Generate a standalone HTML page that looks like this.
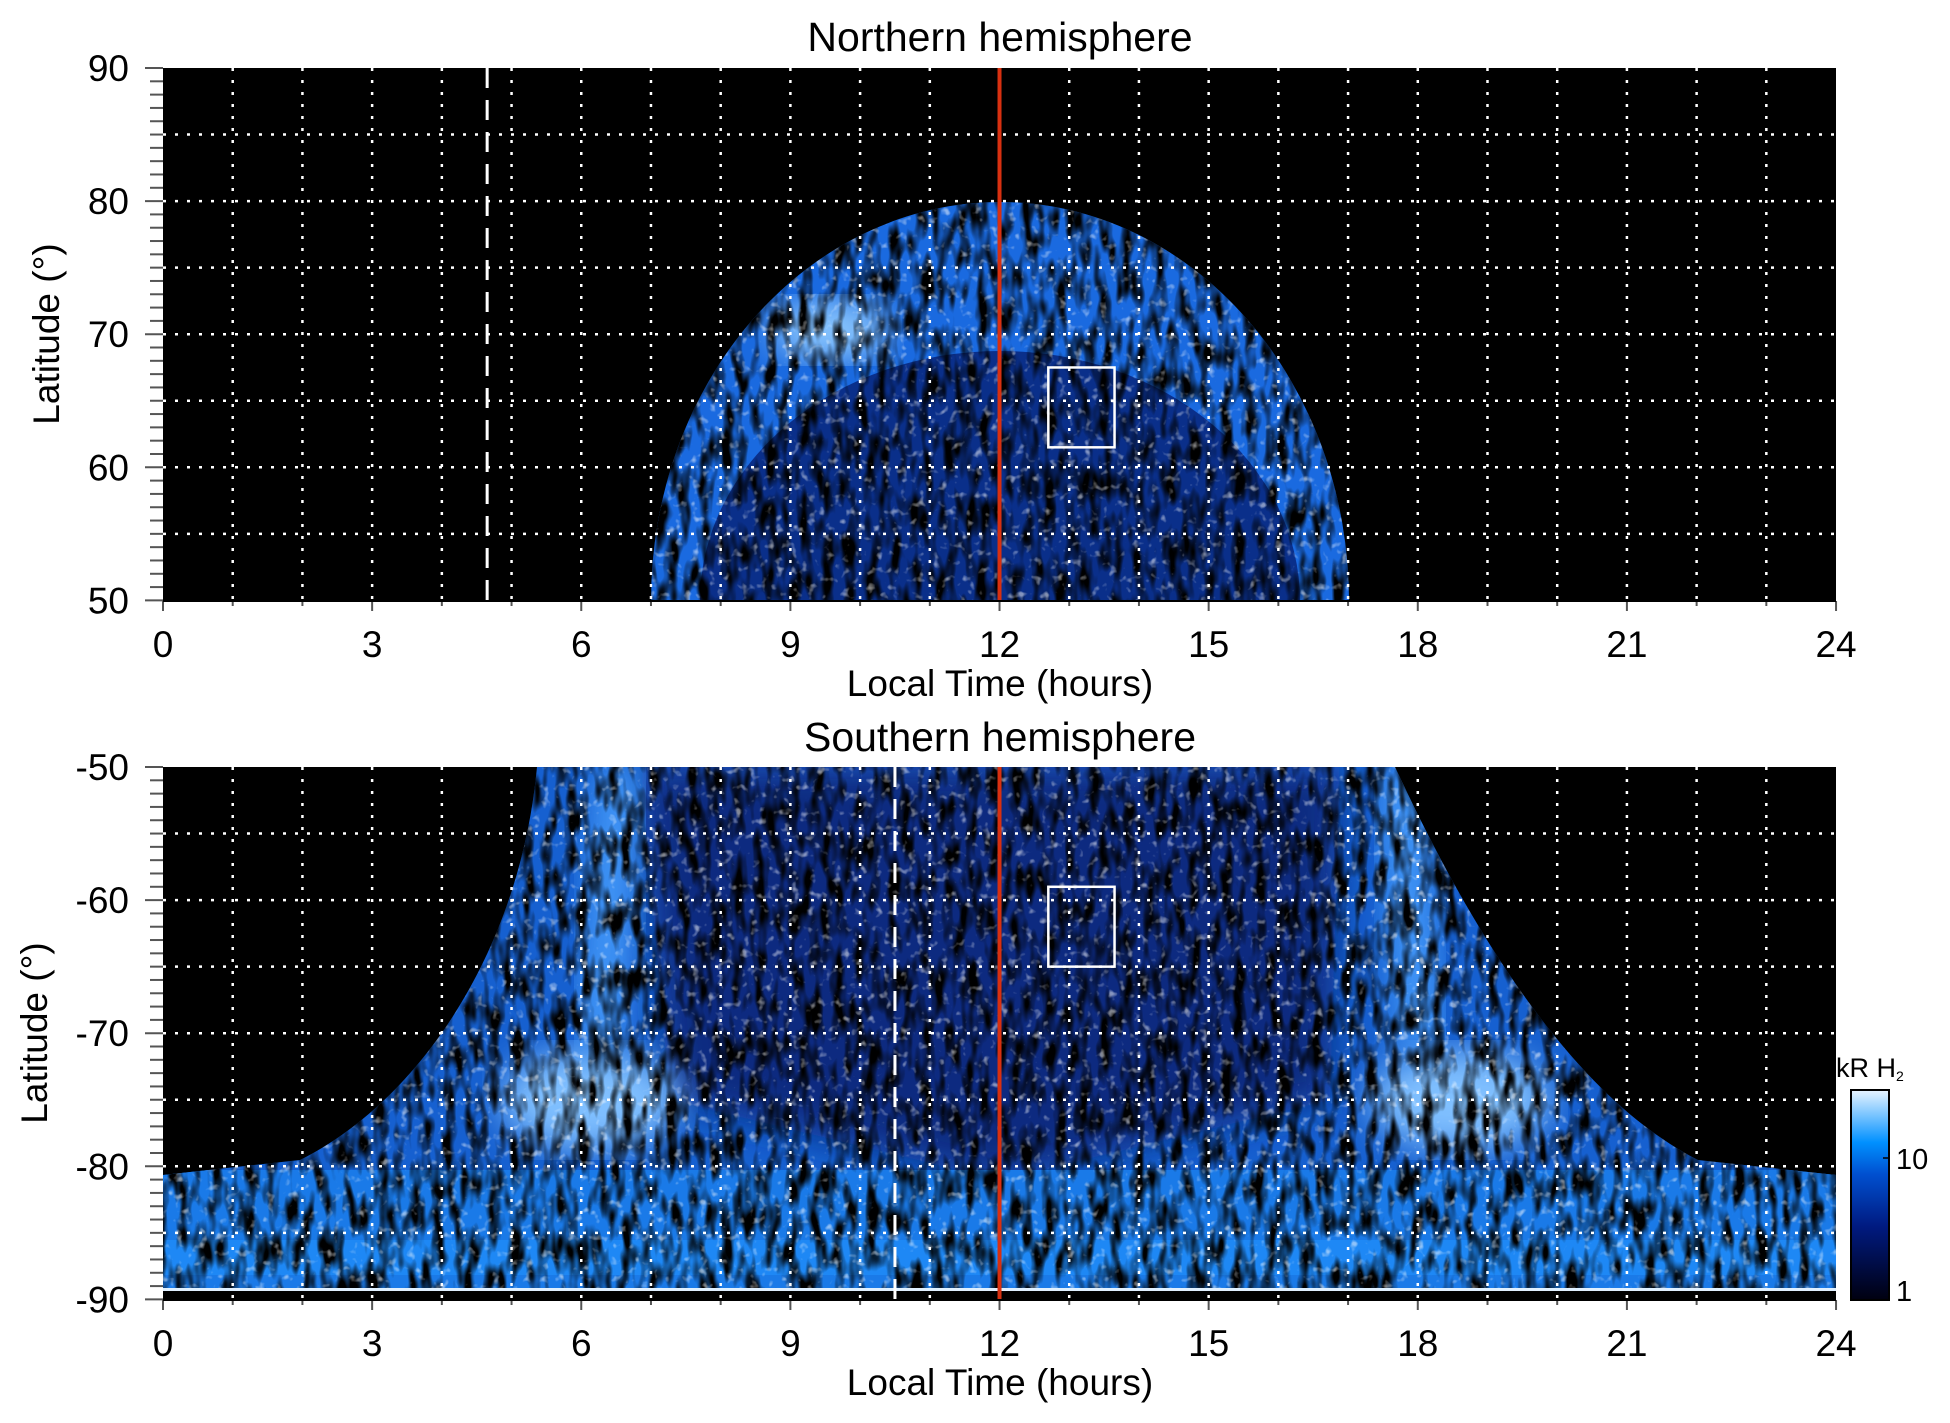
<!DOCTYPE html>
<html><head><meta charset="utf-8"><style>
html,body{margin:0;padding:0;background:#fff;}
svg{display:block;font-family:"Liberation Sans",sans-serif;}
</style></head><body>
<svg id="s" width="1950" height="1423" viewBox="0 0 1950 1423" xmlns="http://www.w3.org/2000/svg">
<defs>
<filter id="tex" x="0" y="0" width="100%" height="100%">
 <feTurbulence type="fractalNoise" baseFrequency="0.09 0.03" numOctaves="2" seed="3" result="n"/>
 <feColorMatrix in="n" type="matrix" values="0 0 0 0 0  0 0 0 0 0  0 0 0 0 0  0 0 0 -3.2 1.9" result="a"/>
 <feComposite in="a" in2="SourceGraphic" operator="in"/>
</filter>
<filter id="tex2" x="0" y="0" width="100%" height="100%">
 <feTurbulence type="fractalNoise" baseFrequency="0.12 0.12" numOctaves="2" seed="7" result="n"/>
 <feColorMatrix in="n" type="matrix" values="0 0 0 0 1  0 0 0 0 1  0 0 0 0 1  0 0 0 4 -2.4" result="a"/>
 <feComposite in="a" in2="SourceGraphic" operator="in"/>
</filter>
<filter id="bl"><feGaussianBlur stdDeviation="18"/></filter>
<linearGradient id="cb" x1="0" y1="1" x2="0" y2="0">
 <stop offset="0" stop-color="#000010"/><stop offset="0.35" stop-color="#001a80"/>
 <stop offset="0.6" stop-color="#0050d0"/><stop offset="0.75" stop-color="#0090ff"/>
 <stop offset="1" stop-color="#e8f4ff"/>
</linearGradient>
<clipPath id="ct"><rect x="163" y="68" width="1673" height="533"/></clipPath>
<clipPath id="cbt"><rect x="163" y="767" width="1673" height="533"/></clipPath>
<clipPath id="topshape"><path d="M651,601 A349,399 0 0 1 1349,601 Z"/></clipPath>
<clipPath id="botshape"><path d="M537,767 C520,950 420,1100 300,1160 L163,1175 L163,1300 L1836,1300 L1836,1175 L1698,1160 C1580,1100 1480,950 1395,767 Z"/></clipPath>
</defs>

<!-- TOP PANEL -->
<rect x="163" y="68" width="1673" height="533" fill="#000"/>
<g clip-path="url(#ct)">
 <g clip-path="url(#topshape)">
  <rect x="640" y="190" width="720" height="420" fill="#1a6ae0"/>
  <ellipse cx="830" cy="330" rx="60" ry="30" fill="#8cc8ff" filter="url(#bl)"/>
  <ellipse cx="1000" cy="601" rx="300" ry="250" fill="#0a2f8a"/>
  <rect x="640" y="190" width="720" height="420" fill="#000" filter="url(#tex)"/>
  <rect x="640" y="190" width="720" height="420" fill="#fff" filter="url(#tex2)" opacity="0.5"/>
 </g>
</g>
<g id="gridT"></g>

<!-- BOTTOM PANEL -->
<rect x="163" y="767" width="1673" height="533" fill="#000"/>
<g clip-path="url(#cbt)">
 <g clip-path="url(#botshape)">
  <rect x="163" y="767" width="1673" height="533" fill="#1660d0"/>
  <path d="M640,767 L1340,767 L1330,1100 L1000,1180 L670,1100 Z" fill="#0a2a80" filter="url(#bl)"/>
  <ellipse cx="590" cy="1100" rx="90" ry="50" fill="#80c0ff" filter="url(#bl)"/>
  <ellipse cx="1460" cy="1100" rx="90" ry="50" fill="#80c0ff" filter="url(#bl)"/>
  <path d="M600,767 L640,767 L620,1050 L580,1050 Z" fill="#4aa0ff" filter="url(#bl)"/>
  <path d="M1380,767 L1420,767 L1440,1050 L1400,1050 Z" fill="#4aa0ff" filter="url(#bl)"/>
  <rect x="163" y="1170" width="1673" height="120" fill="#1a7ae8"/>
  <rect x="163" y="1240" width="1673" height="35" fill="#1e88f5"/>
  <rect x="163" y="767" width="1673" height="533" fill="#000" filter="url(#tex)"/>
  <rect x="163" y="767" width="1673" height="533" fill="#fff" filter="url(#tex2)" opacity="0.5"/>
  <rect x="163" y="1288" width="1673" height="3" fill="#e0f0ff"/>
  <rect x="163" y="1291" width="1673" height="9" fill="#000"/>
 </g>
</g>
<g id="gridB"></g>

<!-- colorbar -->
<rect x="1851" y="1090" width="38" height="210" fill="url(#cb)" stroke="#000" stroke-width="2"/>
<line x1="1883" y1="1158" x2="1889" y2="1158" stroke="#000" stroke-width="1.5"/>
<text x="1896" y="1169" font-size="29">10</text>
<text x="1896" y="1301" font-size="29">1</text>
<text x="1836" y="1077" font-size="27">kR H<tspan font-size="14" dy="4">2</tspan></text>

<!-- titles -->
<text x="1000" y="51" font-size="41" text-anchor="middle">Northern hemisphere</text>
<text x="1000" y="751" font-size="41" text-anchor="middle">Southern hemisphere</text>
<text x="1000" y="696" font-size="37" text-anchor="middle">Local Time (hours)</text>
<text x="1000" y="1395" font-size="37" text-anchor="middle">Local Time (hours)</text>
<text transform="translate(59,334) rotate(-90)" font-size="37" text-anchor="middle">Latitude (°)</text>
<text transform="translate(47,1033) rotate(-90)" font-size="37" text-anchor="middle">Latitude (°)</text>
<g id="labels" font-size="37"></g>
</svg>
<script>
var NS="http://www.w3.org/2000/svg";
function el(p,t,a,txt){var e=document.createElementNS(NS,t);for(var k in a)e.setAttribute(k,a[k]);if(txt!==undefined)e.textContent=txt;p.appendChild(e);return e;}
function X(h){return 163+69.71*h;}
var L=document.getElementById('labels');
function panel(g,y0,latTop,dashH){
  var Y=function(lat){return y0+(latTop-lat)*13.31;};
  for(var h=1;h<24;h++) el(g,'line',{x1:X(h),x2:X(h),y1:y0,y2:y0+533,stroke:'#fff','stroke-width':2.5,'stroke-dasharray':'3 9'});
  for(var d=5;d<40;d+=5) el(g,'line',{x1:163,x2:1836,y1:Y(latTop-d),y2:Y(latTop-d),stroke:'#fff','stroke-width':2.5,'stroke-dasharray':'3 9'});
  el(g,'line',{x1:X(dashH),x2:X(dashH),y1:y0,y2:y0+533,stroke:'#fff','stroke-width':3,'stroke-dasharray':'20 12'});
  el(g,'line',{x1:X(12),x2:X(12),y1:y0,y2:y0+533,stroke:'#d83010','stroke-width':4});
  var bt=(latTop>0)?[67.5,61.5]:[-59,-65];
  el(g,'rect',{x:X(12.7),y:Y(bt[0]),width:X(13.65)-X(12.7),height:Y(bt[1])-Y(bt[0]),fill:'none',stroke:'#fff','stroke-width':2.5});
  for(var d=0;d<=40;d++){var y=Y(latTop-d);var maj=d%10==0;
    el(g,'line',{x1:maj?145:150,x2:163,y1:y,y2:y,stroke:'#555','stroke-width':2});
    if(maj) el(L,'text',{x:129,y:y+13,'text-anchor':'end'},String(latTop-d));}
  for(var h=0;h<=24;h++){el(g,'line',{x1:X(h),x2:X(h),y1:y0+533,y2:y0+533+(h%3==0?10:5),stroke:'#555','stroke-width':2});
    if(h%3==0) el(L,'text',{x:X(h),y:y0+589,'text-anchor':'middle'},String(h));}
  el(g,'line',{x1:163,x2:1836,y1:y0+533,y2:y0+533,stroke:'#000','stroke-width':2});
}
panel(document.getElementById('gridT'),68,90,4.65);
panel(document.getElementById('gridB'),767,-50,10.5);
</script>
</body></html>
